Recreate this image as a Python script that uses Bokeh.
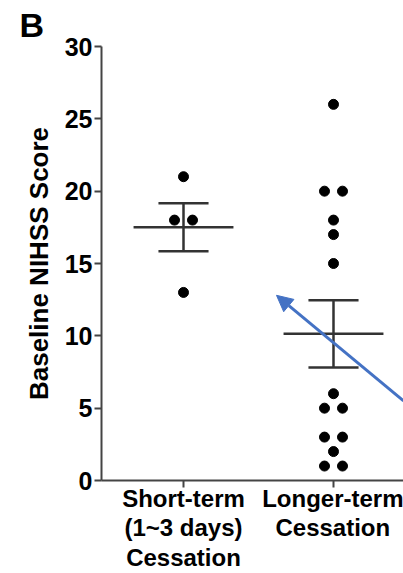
from bokeh.plotting import figure
from bokeh.models import Range1d, FixedTicker, Arrow, NormalHead
from bokeh.embed import file_html
from bokeh.resources import INLINE
import numpy as np

categories = ["Short-term\n(1~3 days)\nCessation", "Longer-term\nCessation"]
short_term = [21, 18, 18, 13]
longer_term = [26, 20, 20, 18, 17, 15, 6, 5, 5, 3, 3, 2, 1, 1]
y_ticks = [0, 5, 10, 15, 20, 25, 30]
arrow_from = (2.467, 5.5)
arrow_to = (1.62, 12.8)

FONT = "Liberation Sans"

p = figure(width=403, height=573, output_backend="svg", toolbar_location=None,
           x_range=Range1d(0.4533, 2.4667), y_range=Range1d(0, 30),
           min_border_left=101, min_border_right=0, min_border_top=0, min_border_bottom=91)
p.outline_line_color = None
p.xgrid.visible = False
p.ygrid.visible = False
p.background_fill_color = "white"

p.title.text = "B"
p.title.align = "left"
p.title.offset = -82
p.title.text_font = FONT
p.title.text_font_style = "bold"
p.title.text_font_size = "34px"
p.title.text_color = "black"
p.title.standoff = 6

def offsets(vals, d=0.06):
    out = []
    seen = {}
    for v in vals:
        c = vals.count(v)
        k = seen.get(v, 0)
        seen[v] = k + 1
        if c == 1:
            out.append(0.0)
        else:
            out.append(-d if k == 0 else d)
    return out

for i, vals in enumerate([short_term, longer_term]):
    xc = i + 1
    xs = [xc + o for o in offsets(vals)]
    p.scatter(xs, vals, size=10, color="black")
    arr = np.array(vals, dtype=float)
    m = arr.mean()
    sem = arr.std(ddof=1) / np.sqrt(len(arr))
    p.segment(x0=[xc - 0.333], y0=[m], x1=[xc + 0.333], y1=[m], line_color="#333333", line_width=2.5)
    p.segment(x0=[xc - 0.167, xc - 0.167, xc], y0=[m + sem, m - sem, m - sem],
              x1=[xc + 0.167, xc + 0.167, xc], y1=[m + sem, m - sem, m + sem],
              line_color="#333333", line_width=2.5)

p.add_layout(Arrow(end=NormalHead(size=16, fill_color="#4472C4", line_color="#4472C4"),
                   x_start=arrow_from[0], y_start=arrow_from[1], x_end=arrow_to[0], y_end=arrow_to[1],
                   line_color="#4472C4", line_width=3))

for ax in (p.xaxis, p.yaxis):
    ax.axis_line_color = "#444444"
    ax.axis_line_width = 2
    ax.major_tick_line_color = "#444444"
    ax.major_tick_line_width = 2
    ax.major_tick_out = 7
    ax.major_tick_in = 0
    ax.minor_tick_line_color = None
    ax.major_label_text_font = FONT
    ax.major_label_text_font_style = "bold"
    ax.major_label_text_color = "black"

p.xaxis.ticker = FixedTicker(ticks=[1, 2])
p.xaxis.major_label_overrides = {1: categories[0], 2: categories[1]}
p.xaxis.major_label_standoff = -3
p.xaxis.major_label_text_font_size = "24px"
p.xaxis.major_label_text_line_height = 1.1
p.yaxis.ticker = FixedTicker(ticks=y_ticks)
p.yaxis.major_label_standoff = 2
p.yaxis.major_label_text_font_size = "25px"
p.yaxis.axis_label = "Baseline NIHSS Score"
p.yaxis.axis_label_text_font = FONT
p.yaxis.axis_label_text_font_style = "bold"
p.yaxis.axis_label_text_font_size = "26px"
p.yaxis.axis_label_text_color = "black"
p.yaxis.axis_label_standoff = 8

open("out.html", "w").write(file_html(p, INLINE))
